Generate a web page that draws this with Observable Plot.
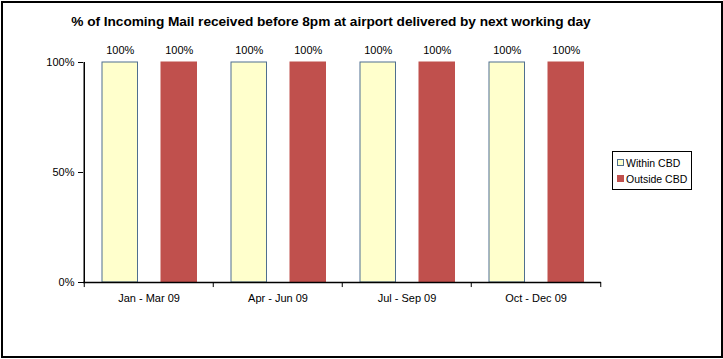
<!DOCTYPE html>
<html>
<head>
<meta charset="utf-8">
<script src="https://cdn.jsdelivr.net/npm/d3@7"></script>
<script src="https://cdn.jsdelivr.net/npm/@observablehq/plot@0.6"></script>
<style>
  html, body { margin: 0; padding: 0; background: #fff; }
  #wrap { position: relative; width: 723px; height: 359px; font-family: Arial, "Liberation Sans", sans-serif; }
  #border { position: absolute; left: 1px; top: 1px; width: 718px; height: 353px; border: 2px solid #000; box-sizing: content-box; pointer-events: none; }
  #title { position: absolute; left: 0; width: 662px; top: 14px; text-align: center; font-weight: bold; font-size: 13.7px; color: #000; font-family: "Liberation Sans Narrow", "Arial Narrow", Arial, sans-serif; letter-spacing: -0.05px; }
  #legend { position: absolute; left: 612px; top: 151px; width: 78px; height: 37px; border: 1px solid #000; font-size: 10.5px; color: #000; }
  .item { position: absolute; left: 4px; height: 12px; line-height: 12px; white-space: nowrap; }
  .sw { display: inline-block; width: 5px; height: 5px; margin-right: 2px; vertical-align: 1px; }
  svg { position: absolute; left: 0; top: 0; }
</style>
</head>
<body>
<div id="wrap">
  <div id="chart"></div>
  <div id="title"></div>
  <div id="legend"></div>
  <div id="border"></div>
</div>
<script>
const title = "% of Incoming Mail received before 8pm at airport delivered by next working day";
const categories = ["Jan - Mar 09", "Apr - Jun 09", "Jul - Sep 09", "Oct - Dec 09"];
const seriesNames = ["Within CBD", "Outside CBD"];
const withinCBD = [100, 100, 100, 100];
const outsideCBD = [100, 100, 100, 100];
const yTicks = [0, 50, 100];

const fills = ["#FFFFCC", "#C0504D"];
const strokes = ["#4F6F8F", "#C0504D"];

const within = categories.map((c, i) => ({cat: c, value: withinCBD[i]}));
const outside = categories.map((c, i) => ({cat: c, value: outsideCBD[i]}));

const W = 723, H = 359;
const pLeft = 83, pRight = 601, pTop = 62, pBottom = 282;
const band = (pRight - pLeft) / categories.length;

const chart = Plot.plot({
  width: W,
  height: H,
  marginLeft: pLeft,
  marginRight: W - pRight,
  marginTop: pTop,
  marginBottom: H - pBottom,
  style: {fontFamily: "Arial, 'Liberation Sans', sans-serif", fontSize: "11px", color: "#000", background: "transparent", overflow: "visible"},
  x: {type: "band", domain: categories, padding: 0},
  y: {domain: [0, 100]},
  marks: [
    Plot.barY(within, {x: "cat", y: "value", fill: fills[0], stroke: strokes[0], strokeWidth: 1, insetLeft: 18, insetRight: band - 54}),
    Plot.barY(outside, {x: "cat", y: "value", fill: fills[1], stroke: strokes[1], strokeWidth: 1, insetLeft: 77, insetRight: band - 113}),
    Plot.text(within, {x: "cat", y: "value", text: d => d.value + "%", dx: 36 - band / 2, dy: -12, fontSize: 11}),
    Plot.text(outside, {x: "cat", y: "value", text: d => d.value + "%", dx: 95 - band / 2, dy: -12, fontSize: 11}),
    Plot.ruleY([0], {stroke: "#000", strokeWidth: 1.5}),
    Plot.ruleX(categories, {x: d => d, dx: -band / 2, y1: 0, y2: -2.3, stroke: "#000", clip: false}),
    Plot.ruleX(categories.slice(-1), {x: d => d, dx: band / 2, y1: 0, y2: -2.3, stroke: "#000", clip: false}),
    Plot.ruleX(categories.slice(0, 1), {x: d => d, dx: -band / 2, y1: 0, y2: 100, stroke: "#000", strokeWidth: 1.5}),
    Plot.axisY({ticks: yTicks, tickFormat: d => d + "%", tickSize: 5, tickPadding: 4, label: null, stroke: "#000", strokeWidth: 1, fontSize: 11}),
    Plot.axisX({tickSize: 0, tickPadding: 12, label: null, fontSize: 11})
  ]
});
document.getElementById("chart").appendChild(chart);
document.getElementById("title").textContent = title;

const leg = document.getElementById("legend");
seriesNames.forEach((name, i) => {
  const it = document.createElement("div");
  it.className = "item";
  it.style.top = (5 + i * 16) + "px";
  const sw = document.createElement("span");
  sw.className = "sw";
  sw.style.background = fills[i];
  sw.style.border = "1px solid " + strokes[i];
  it.appendChild(sw);
  it.appendChild(document.createTextNode(name));
  leg.appendChild(it);
});
</script>
</body>
</html>
